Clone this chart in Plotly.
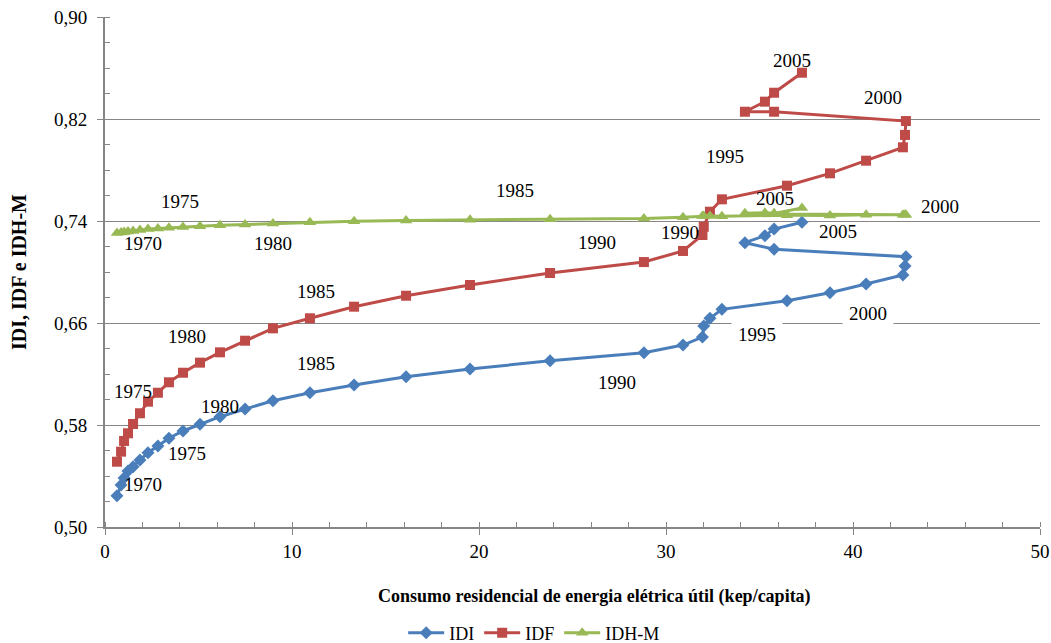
import plotly.graph_objects as go

years = list(range(1970, 2006))
consumo = [0.64, 0.86, 1.02, 1.23, 1.50, 1.87, 2.30, 2.83, 3.42, 4.17,
           5.08, 6.15, 7.49, 8.98, 10.96, 13.32, 16.10, 19.52, 23.80, 28.82,
           30.91, 31.95, 32.02, 32.35, 32.99, 36.47, 38.77, 40.70, 42.67, 42.78,
           42.83, 35.78, 34.22, 35.29, 35.78, 37.27]
idi = [0.5245, 0.5329, 0.5384, 0.5439, 0.5473, 0.5525, 0.5583, 0.5635, 0.5696, 0.5753,
       0.5805, 0.5865, 0.5925, 0.5990, 0.6053, 0.6114, 0.6179, 0.6239, 0.6304, 0.6367,
       0.6427, 0.6490, 0.6576, 0.6637, 0.6707, 0.6775, 0.6838, 0.6906, 0.6976, 0.7047,
       0.7120, 0.7178, 0.7230, 0.7285, 0.7337, 0.7390]
idf = [0.5512, 0.5591, 0.5675, 0.5735, 0.5808, 0.5892, 0.5983, 0.6053, 0.6135, 0.6210,
       0.6289, 0.6370, 0.6461, 0.6558, 0.6637, 0.6728, 0.6814, 0.6898, 0.6992, 0.7078,
       0.7165, 0.7290, 0.7355, 0.7473, 0.7570, 0.7677, 0.7774, 0.7873, 0.7978, 0.8075,
       0.8184, 0.8257, 0.8257, 0.8336, 0.8406, 0.8563]
idhm = [0.7306, 0.7310, 0.7313, 0.7318, 0.7322, 0.7330, 0.7337, 0.7341, 0.7347, 0.7352,
        0.7358, 0.7366, 0.7372, 0.7380, 0.7390, 0.7398, 0.7404, 0.7409, 0.7414, 0.7420,
        0.7430, 0.7440, 0.7440, 0.7440, 0.7437, 0.7445, 0.7443, 0.7450, 0.7450, 0.7450,
        0.7450, 0.7455, 0.7460, 0.7465, 0.7460, 0.7502]

# year labels: (text, x, y, series)
year_labels = [
    ("1970", 2.02, 0.5337, "IDI"), ("1975", 4.37, 0.5578, "IDI"), ("1980", 6.15, 0.5944, "IDI"),
    ("1985", 11.28, 0.6284, "IDI"), ("1990", 27.36, 0.6132, "IDI"), ("1995", 34.85, 0.6506, "IDI"),
    ("2000", 40.80, 0.6676, "IDI"), ("2005", 39.20, 0.7316, "IDI"),
    ("1975", 1.50, 0.6061, "IDF"), ("1980", 4.39, 0.6493, "IDF"), ("1985", 11.28, 0.6846, "IDF"),
    ("1990", 26.31, 0.7235, "IDF"), ("1995", 33.16, 0.7904, "IDF"), ("2000", 41.60, 0.8365, "IDF"),
    ("2005", 36.72, 0.8657, "IDF"),
    ("1970", 2.03, 0.7225, "IDH-M"), ("1975", 4.01, 0.7551, "IDH-M"), ("1980", 9.00, 0.7225, "IDH-M"),
    ("1985", 21.93, 0.7643, "IDH-M"), ("1990", 30.75, 0.7306, "IDH-M"), ("2005", 35.83, 0.7580, "IDH-M"),
    ("2000", 44.65, 0.7510, "IDH-M"),
]
boxed = {("IDI", "1995"), ("IDI", "2000")}

x_title = "Consumo residencial de energia elétrica útil (kep/capita)"
y_title = "IDI, IDF e IDH-M"

FONT = "Liberation Serif, Times New Roman, serif"
GREY = "#868686"

fig = go.Figure()
fig.add_trace(go.Scatter(x=consumo, y=idi, name="IDI", mode="lines+markers",
                         line=dict(color="#4A7EBB", width=3),
                         marker=dict(symbol="diamond", size=10, color="#4A7EBB")))
fig.add_trace(go.Scatter(x=consumo, y=idf, name="IDF", mode="lines+markers",
                         line=dict(color="#BE4B48", width=3),
                         marker=dict(symbol="square", size=10, color="#BE4B48")))
fig.add_trace(go.Scatter(x=consumo, y=idhm, name="IDH-M", mode="lines+markers",
                         line=dict(color="#98B954", width=3),
                         marker=dict(symbol="triangle-up", size=11, color="#98B954")))

for txt, x, y, s in year_labels:
    fig.add_annotation(x=x, y=y, text=txt, showarrow=False,
                       font=dict(family=FONT, size=19, color="black"),
                       bgcolor="white" if (s, txt) in boxed else None,
                       borderpad=6 if (s, txt) in boxed else 0)

# x axis title (placed slightly right of the plot centre, as in the original)
fig.add_annotation(xref="paper", yref="paper", x=0.524, y=-0.137, xanchor="center", yanchor="middle",
                   text="<b>" + x_title + "</b>", showarrow=False,
                   font=dict(family=FONT, size=18, color="black"))

fig.update_layout(
    template="none",
    width=1051, height=643,
    margin=dict(l=105, r=11, t=17, b=116, autoexpand=False),
    paper_bgcolor="white", plot_bgcolor="white",
    separators=",.",
    font=dict(family=FONT, size=18, color="black"),
    showlegend=True,
    legend=dict(orientation="h", x=0.459, xanchor="center", y=-0.208, yanchor="middle",
                font=dict(family=FONT, size=18), itemwidth=36, tracegroupgap=0,
                bgcolor="rgba(0,0,0,0)"),
    xaxis=dict(range=[0, 50], dtick=10, tick0=0, showgrid=False, zeroline=False, automargin=False,
               showline=True, linecolor=GREY, linewidth=2,
               ticks="outside", ticklen=6, tickcolor=GREY, tickwidth=1,
               minor=dict(dtick=2, ticks="inside", ticklen=5, tickcolor=GREY, showgrid=False),
               tickfont=dict(family=FONT, size=19)),
    yaxis=dict(range=[0.5, 0.9], dtick=0.08, tick0=0.5, tickformat=".2f", automargin=False,
               showgrid=True, gridcolor=GREY, gridwidth=1, zeroline=False,
               showline=True, linecolor=GREY, linewidth=2,
               ticks="outside", ticklen=6, tickcolor=GREY, tickwidth=1,
               minor=dict(dtick=0.02, ticks="inside", ticklen=5, tickcolor=GREY, showgrid=False),
               tickfont=dict(family=FONT, size=19), ticklabelstandoff=6,
               title=dict(text="<b>" + y_title + "</b>", font=dict(family=FONT, size=20), standoff=22)),
)

fig.write_html("out.html", config={"displayModeBar": False},
               post_script="document.body.style.margin='0px';document.body.style.overflow='hidden';")
